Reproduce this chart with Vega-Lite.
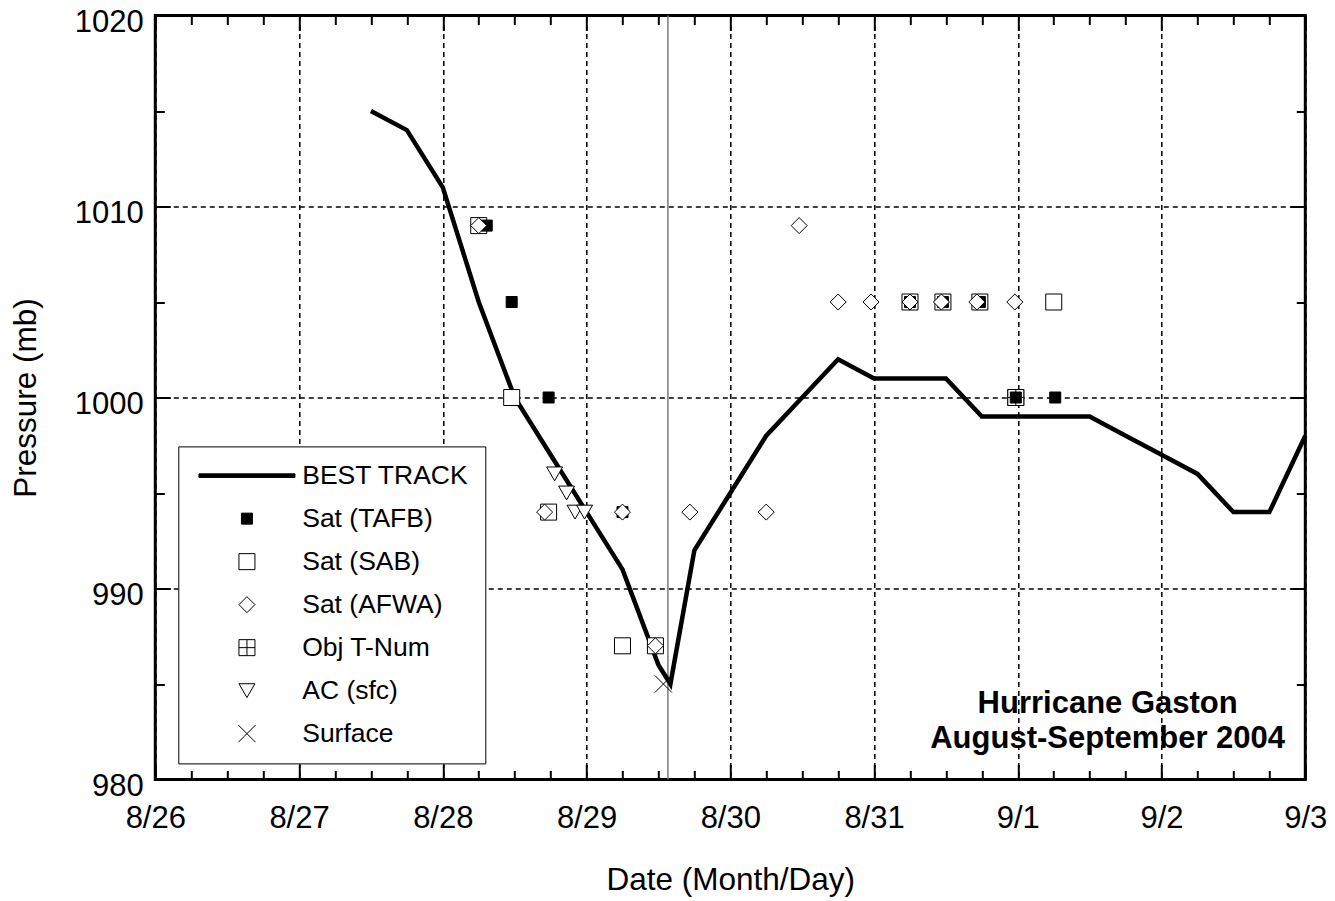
{
  "$schema": "https://vega.github.io/schema/vega-lite/v6.json",
  "width": 1150,
  "height": 764,
  "autosize": {"type": "none"},
  "padding": {"left": 155.3, "top": 15.5, "right": 29.7, "bottom": 121.5},
  "background": "white",
  "datasets": {
    "best": [
      {"time": "2004-08-27T12:00:00Z", "pressure": 1015},
      {"time": "2004-08-27T18:00:00Z", "pressure": 1014},
      {"time": "2004-08-28T00:00:00Z", "pressure": 1011},
      {"time": "2004-08-28T06:00:00Z", "pressure": 1005},
      {"time": "2004-08-28T12:00:00Z", "pressure": 1000},
      {"time": "2004-08-28T18:00:00Z", "pressure": 997},
      {"time": "2004-08-29T00:00:00Z", "pressure": 994},
      {"time": "2004-08-29T06:00:00Z", "pressure": 991},
      {"time": "2004-08-29T12:00:00Z", "pressure": 986},
      {"time": "2004-08-29T14:00:00Z", "pressure": 985},
      {"time": "2004-08-29T18:00:00Z", "pressure": 992},
      {"time": "2004-08-30T00:00:00Z", "pressure": 995},
      {"time": "2004-08-30T06:00:00Z", "pressure": 998},
      {"time": "2004-08-30T12:00:00Z", "pressure": 1000},
      {"time": "2004-08-30T18:00:00Z", "pressure": 1002},
      {"time": "2004-08-31T00:00:00Z", "pressure": 1001},
      {"time": "2004-08-31T06:00:00Z", "pressure": 1001},
      {"time": "2004-08-31T12:00:00Z", "pressure": 1001},
      {"time": "2004-08-31T18:00:00Z", "pressure": 999},
      {"time": "2004-09-01T00:00:00Z", "pressure": 999},
      {"time": "2004-09-01T06:00:00Z", "pressure": 999},
      {"time": "2004-09-01T12:00:00Z", "pressure": 999},
      {"time": "2004-09-01T18:00:00Z", "pressure": 998},
      {"time": "2004-09-02T00:00:00Z", "pressure": 997},
      {"time": "2004-09-02T06:00:00Z", "pressure": 996},
      {"time": "2004-09-02T12:00:00Z", "pressure": 994},
      {"time": "2004-09-02T18:00:00Z", "pressure": 994},
      {"time": "2004-09-03T00:00:00Z", "pressure": 998}
    ],
    "fixes": [
      {"time": "2004-08-28T06:00:00Z", "pressure": 1009, "source": "Sat (SAB)"},
      {"time": "2004-08-28T11:30:00Z", "pressure": 1000, "source": "Sat (SAB)"},
      {"time": "2004-08-28T17:40:00Z", "pressure": 994, "source": "Sat (SAB)"},
      {"time": "2004-08-29T06:00:00Z", "pressure": 987, "source": "Sat (SAB)"},
      {"time": "2004-08-29T11:30:00Z", "pressure": 987, "source": "Sat (SAB)"},
      {"time": "2004-08-31T06:00:00Z", "pressure": 1005, "source": "Sat (SAB)"},
      {"time": "2004-08-31T11:30:00Z", "pressure": 1005, "source": "Sat (SAB)"},
      {"time": "2004-08-31T17:40:00Z", "pressure": 1005, "source": "Sat (SAB)"},
      {"time": "2004-08-31T23:40:00Z", "pressure": 1000, "source": "Sat (SAB)"},
      {"time": "2004-09-01T06:00:00Z", "pressure": 1005, "source": "Sat (SAB)"},
      {"time": "2004-08-31T23:40:00Z", "pressure": 1000, "source": "Obj T-Num"},
      {"time": "2004-08-28T07:20:00Z", "pressure": 1009, "source": "Sat (TAFB)"},
      {"time": "2004-08-28T11:30:00Z", "pressure": 1005, "source": "Sat (TAFB)"},
      {"time": "2004-08-28T17:40:00Z", "pressure": 1000, "source": "Sat (TAFB)"},
      {"time": "2004-08-29T06:00:00Z", "pressure": 994, "source": "Sat (TAFB)"},
      {"time": "2004-08-31T06:00:00Z", "pressure": 1005, "source": "Sat (TAFB)"},
      {"time": "2004-08-31T11:30:00Z", "pressure": 1005, "source": "Sat (TAFB)"},
      {"time": "2004-08-31T17:40:00Z", "pressure": 1005, "source": "Sat (TAFB)"},
      {"time": "2004-08-31T23:40:00Z", "pressure": 1000, "source": "Sat (TAFB)"},
      {"time": "2004-09-01T06:15:00Z", "pressure": 1000, "source": "Sat (TAFB)"},
      {"time": "2004-08-28T06:00:00Z", "pressure": 1009, "source": "Sat (AFWA)"},
      {"time": "2004-08-28T17:00:00Z", "pressure": 994, "source": "Sat (AFWA)"},
      {"time": "2004-08-29T06:00:00Z", "pressure": 994, "source": "Sat (AFWA)"},
      {"time": "2004-08-29T11:30:00Z", "pressure": 987, "source": "Sat (AFWA)"},
      {"time": "2004-08-29T17:15:00Z", "pressure": 994, "source": "Sat (AFWA)"},
      {"time": "2004-08-30T06:00:00Z", "pressure": 994, "source": "Sat (AFWA)"},
      {"time": "2004-08-30T11:30:00Z", "pressure": 1009, "source": "Sat (AFWA)"},
      {"time": "2004-08-30T18:00:00Z", "pressure": 1005, "source": "Sat (AFWA)"},
      {"time": "2004-08-30T23:30:00Z", "pressure": 1005, "source": "Sat (AFWA)"},
      {"time": "2004-08-31T06:00:00Z", "pressure": 1005, "source": "Sat (AFWA)"},
      {"time": "2004-08-31T11:15:00Z", "pressure": 1005, "source": "Sat (AFWA)"},
      {"time": "2004-08-31T17:10:00Z", "pressure": 1005, "source": "Sat (AFWA)"},
      {"time": "2004-08-31T23:30:00Z", "pressure": 1005, "source": "Sat (AFWA)"},
      {"time": "2004-08-28T18:40:00Z", "pressure": 996, "source": "AC (sfc)"},
      {"time": "2004-08-28T20:40:00Z", "pressure": 995, "source": "AC (sfc)"},
      {"time": "2004-08-28T22:05:00Z", "pressure": 994, "source": "AC (sfc)"},
      {"time": "2004-08-28T23:40:00Z", "pressure": 994, "source": "AC (sfc)"},
      {"time": "2004-08-29T12:50:00Z", "pressure": 985, "source": "Surface"}
    ],
    "landfall": [
      {"time": "2004-08-29T13:35:00Z"}
    ]
  },
  "resolve": {"axis": {"x": "independent", "y": "independent"}},
  "layer": [
    {
      "data": {"name": "landfall"},
      "mark": {"type": "rule", "color": "#7a7a7a", "strokeWidth": 1.5},
      "encoding": {
        "x": {"field": "time", "type": "temporal", "axis": null,
              "scale": {"type": "utc", "domain": [{"year": 2004, "month": 8, "date": 26, "utc": true}, {"year": 2004, "month": 9, "date": 3, "utc": true}], "nice": false}}
      }
    },
    {
      "data": {"name": "best"},
      "mark": {"type": "line", "color": "black", "strokeWidth": 4.5},
      "encoding": {
        "x": {
          "field": "time", "type": "temporal",
          "scale": {"type": "utc", "domain": [{"year": 2004, "month": 8, "date": 26, "utc": true}, {"year": 2004, "month": 9, "date": 3, "utc": true}], "nice": false},
          "axis": {
            "orient": "bottom",
            "title": "Date (Month/Day)",
            "tickCount": 32,
            "format": "%-m/%-d",
            "labelExpr": "datum.value % 86400000 === 0 ? datum.label : ''",
            "grid": true,
            "gridColor": "black",
            "gridDash": [5, 4],
            "gridWidth": 1.5,
            "gridOpacity": {"condition": {"test": "datum.value % 86400000 === 0", "value": 1}, "value": 0},
            "tickSize": {"condition": {"test": "datum.value % 86400000 === 0", "value": -15}, "value": -9},
            "tickWidth": 2,
            "tickColor": "black",
            "domain": false,
            "labelFontSize": 31,
            "labelColor": "black",
            "labelPadding": 38.6,
            "labelFlush": false,
            "labelOverlap": false,
            "titleFontSize": 31.5,
            "titleFontWeight": "normal",
            "titleColor": "black",
            "titlePadding": 25
          }
        },
        "y": {
          "field": "pressure", "type": "quantitative",
          "scale": {"domain": [980, 1020], "nice": false, "zero": false},
          "axis": {
            "orient": "left",
            "title": "Pressure (mb)",
            "values": [980, 985, 990, 995, 1000, 1005, 1010, 1015, 1020],
            "format": "d",
            "labelExpr": "datum.value % 10 === 0 ? datum.label : ''",
            "grid": true,
            "gridColor": "black",
            "gridDash": [5, 4],
            "gridWidth": 1.5,
            "gridOpacity": {"condition": {"test": "datum.value % 10 === 0", "value": 1}, "value": 0},
            "tickSize": {"condition": {"test": "datum.value % 10 === 0", "value": -15}, "value": -9},
            "tickWidth": 2,
            "tickColor": "black",
            "domain": false,
            "labelFontSize": 31,
            "labelColor": "black",
            "labelPadding": 27,
            "labelOffset": 7,
            "labelOverlap": false,
            "labelFlush": false,
            "titleFontSize": 31.5,
            "titleFontWeight": "normal",
            "titleColor": "black",
            "titlePadding": 32
          }
        }
      }
    },
    {
      "data": {"name": "fixes"},
      "mark": {"type": "point", "stroke": "black", "strokeWidth": 1, "opacity": 1},
      "encoding": {
        "x": {
          "field": "time", "type": "temporal",
          "scale": {"type": "utc", "domain": [{"year": 2004, "month": 8, "date": 26, "utc": true}, {"year": 2004, "month": 9, "date": 3, "utc": true}], "nice": false},
          "axis": {
            "orient": "top",
            "title": null,
            "labels": false,
            "grid": false,
            "domain": false,
            "tickCount": 32,
            "tickSize": {"condition": {"test": "datum.value % 86400000 === 0", "value": -15}, "value": -9},
            "tickWidth": 2,
            "tickColor": "black"
          }
        },
        "y": {
          "field": "pressure", "type": "quantitative",
          "scale": {"domain": [980, 1020], "nice": false, "zero": false},
          "axis": {
            "orient": "right",
            "title": null,
            "labels": false,
            "grid": false,
            "domain": false,
            "values": [980, 985, 990, 995, 1000, 1005, 1010, 1015, 1020],
            "tickSize": {"condition": {"test": "datum.value % 10 === 0", "value": -15}, "value": -9},
            "tickWidth": 2,
            "tickColor": "black"
          }
        },
        "shape": {
          "field": "source", "type": "nominal",
          "scale": {
            "domain": ["BEST TRACK", "Sat (TAFB)", "Sat (SAB)", "Sat (AFWA)", "Obj T-Num", "AC (sfc)", "Surface"],
            "range": ["M-8,-0.3L8,-0.3L8,0.3L-8,0.3Z", "square", "square", "diamond", "M-1,-1L1,-1L1,1L-1,1ZM0,-1L0,1M-1,0L1,0", "triangle-down", "M-1,-1L1,1M-1,1L1,-1"]
          },
          "legend": {
            "title": null, "orient": "none", "legendX": 23, "legendY": 430.9, "padding": 16,
            "strokeColor": "black", "fillColor": "white",
            "labelFont": "Liberation Sans", "labelFontSize": 26.5, "labelColor": "black", "labelLimit": 400,
            "symbolOffset": 39.4, "labelOffset": 42, "rowPadding": 16,
            "symbolFillColor": "white", "symbolStrokeColor": "black", "symbolStrokeWidth": 1, "symbolOpacity": 1
          }
        },
        "fill": {
          "field": "source", "type": "nominal",
          "scale": {
            "domain": ["BEST TRACK", "Sat (TAFB)", "Sat (SAB)", "Sat (AFWA)", "Obj T-Num", "AC (sfc)", "Surface"],
            "range": ["black", "black", "white", "white", "white", "white", "white"]
          },
          "legend": {
            "title": null, "orient": "none", "legendX": 23, "legendY": 430.9, "padding": 16,
            "strokeColor": "black", "fillColor": "white",
            "labelFont": "Liberation Sans", "labelFontSize": 26.5, "labelColor": "black", "labelLimit": 400,
            "symbolOffset": 39.4, "labelOffset": 42, "rowPadding": 16,
            "symbolFillColor": "white", "symbolStrokeColor": "black", "symbolStrokeWidth": 1, "symbolOpacity": 1
          }
        },
        "size": {
          "field": "source", "type": "nominal",
          "scale": {
            "type": "ordinal",
            "domain": ["BEST TRACK", "Sat (TAFB)", "Sat (SAB)", "Sat (AFWA)", "Obj T-Num", "AC (sfc)", "Surface"],
            "range": [144, 121, 256, 256, 256, 256, 289]
          },
          "legend": {
            "title": null, "orient": "none", "legendX": 23, "legendY": 430.9, "padding": 16,
            "strokeColor": "black", "fillColor": "white",
            "labelFont": "Liberation Sans", "labelFontSize": 26.5, "labelColor": "black", "labelLimit": 400,
            "symbolOffset": 39.4, "labelOffset": 42, "rowPadding": 16,
            "symbolFillColor": "white", "symbolStrokeColor": "black", "symbolStrokeWidth": 1, "symbolOpacity": 1
          }
        }
      }
    },
    {
      "data": {"values": [{"a": 1}]},
      "mark": {
        "type": "text",
        "text": ["Hurricane Gaston", "August-September 2004"],
        "font": "Liberation Sans",
        "fontSize": 31,
        "fontWeight": "bold",
        "align": "center",
        "baseline": "alphabetic",
        "lineHeight": 35,
        "color": "black"
      },
      "encoding": {
        "x": {"datum": {"year": 2004, "month": 9, "date": 1, "hours": 15, "utc": true}, "type": "temporal", "axis": null},
        "y": {"datum": 983.5, "type": "quantitative", "axis": null}
      }
    }
  ],
  "config": {
    "font": "Liberation Sans",
    "view": {"stroke": "black", "strokeWidth": 3},
    "axis": {"labelFont": "Liberation Sans", "titleFont": "Liberation Sans"}
  }
}
